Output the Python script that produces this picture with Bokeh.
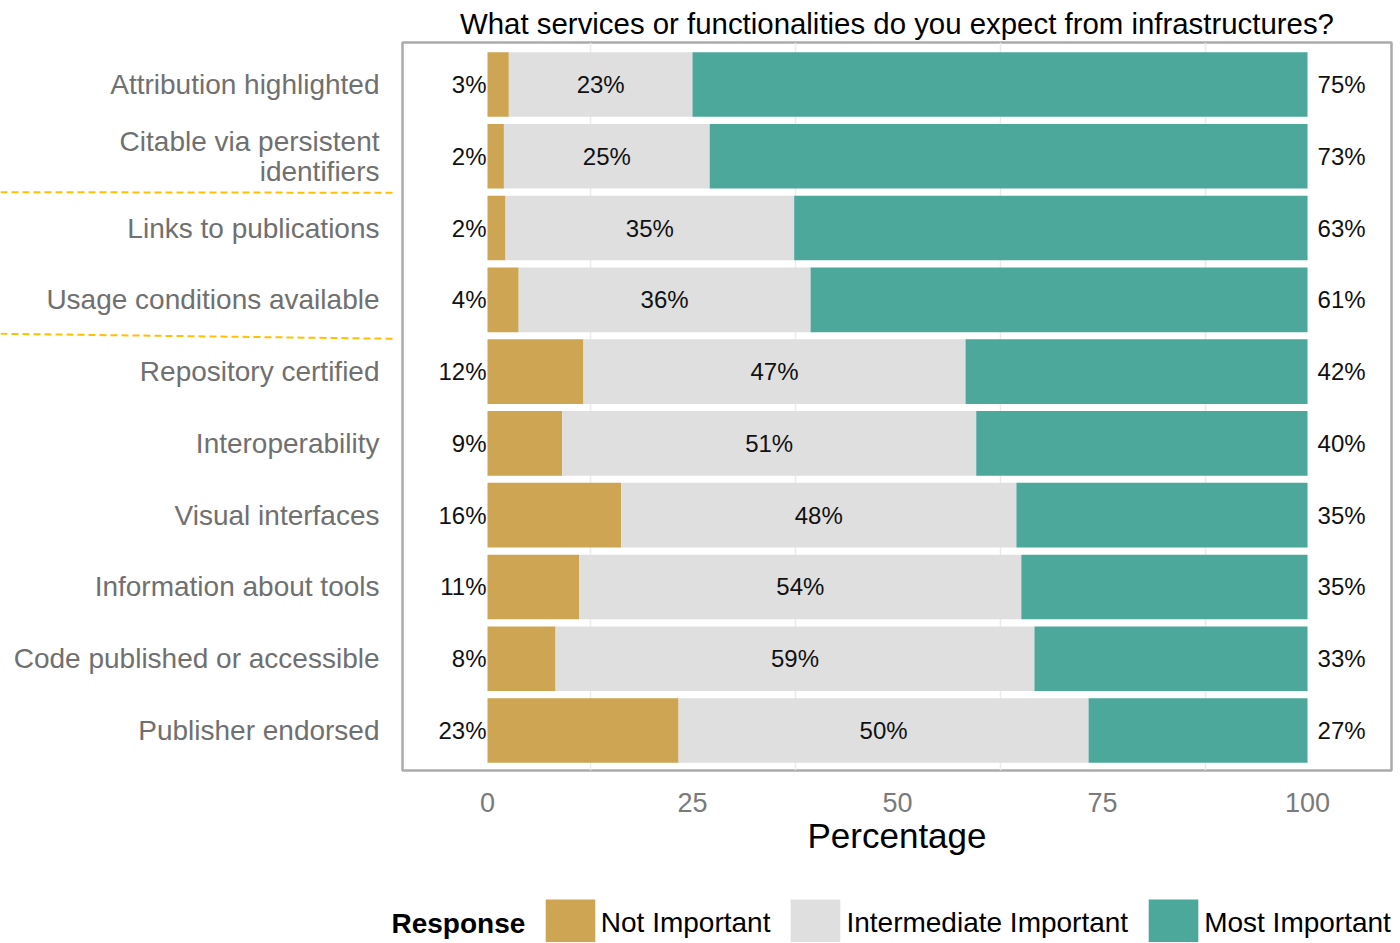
from bokeh.plotting import figure
from bokeh.models import Range1d, FixedTicker, Legend, LegendItem, ColumnDataSource
from bokeh.layouts import row, column
from bokeh.core.properties import value
from bokeh.embed import file_html
from bokeh.resources import INLINE

# ---------------- data ----------------
categories = [
    "Attribution highlighted",
    "Citable via persistent\nidentifiers",
    "Links to publications",
    "Usage conditions available",
    "Repository certified",
    "Interoperability",
    "Visual interfaces",
    "Information about tools",
    "Code published or accessible",
    "Publisher endorsed",
]
not_important = [2.6, 2.0, 2.2, 3.8, 11.7, 9.1, 16.3, 11.2, 8.3, 23.3]
intermediate = [22.4, 25.1, 35.2, 35.6, 46.6, 50.5, 48.2, 53.9, 58.4, 50.0]
most_important = [75.0, 72.9, 62.6, 60.6, 41.7, 40.4, 35.5, 34.9, 33.3, 26.7]

not_important_lbl = [3, 2, 2, 4, 12, 9, 16, 11, 8, 23]
intermediate_lbl = [23, 25, 35, 36, 47, 51, 48, 54, 59, 50]
most_important_lbl = [75, 73, 63, 61, 42, 40, 35, 35, 33, 27]

responses = ["Not Important", "Intermediate Important", "Most Important"]
colors = ["#CEA553", "#DFDFDF", "#4BA89B"]
x_ticks = [0, 25, 50, 75, 100]
x_minor = [12.5, 37.5, 62.5, 87.5]
title_text = "What services or functionalities do you expect from infrastructures?"
legend_title = "Response"
x_label = "Percentage"

n = len(categories)
pos = list(range(1, n + 1))

# ---------------- geometry ----------------
TOP = 42
BOTTOM = 110
ROW_H = TOP + 728 + BOTTOM       # 880
LEFT_W = 397
RIGHT_W = 1000
LEG_H = 62

FONT = "Liberation Sans"
y_range = Range1d(start=10.557, end=0.415)

# ---------------- left figure (category labels + separators) ----------------
pl = figure(width=LEFT_W, height=ROW_H, x_range=Range1d(0, LEFT_W), y_range=y_range,
            output_backend="svg", toolbar_location=None, title=None,
            x_axis_location=None, y_axis_location=None,
            min_border_left=0, min_border_right=0, min_border_top=TOP, min_border_bottom=BOTTOM)
pl.outline_line_color = None
pl.xgrid.visible = False
pl.ygrid.visible = False
pl.background_fill_color = "white"
pl.border_fill_color = "white"

pl.text(x=[379] * n, y=pos, text=categories, text_align="right", text_baseline="middle",
        text_font=value(FONT), text_font_size="28px", text_color="#707070",
        text_line_height=0.96)

pl.segment(x0=[0, 0], x1=[396, 396], y0=[2.500, 4.473], y1=[2.509, 4.543],
           line_color="#FFC000", line_width=2, line_dash="7 4")

# ---------------- right figure (bars) ----------------
p = figure(width=RIGHT_W, height=ROW_H, x_range=Range1d(-10.366, 110.24), y_range=y_range,
           output_backend="svg", toolbar_location=None, title=title_text,
           y_axis_location=None,
           min_border_left=5, min_border_right=6, min_border_top=TOP, min_border_bottom=BOTTOM)
p.background_fill_color = "white"
p.border_fill_color = "white"
p.outline_line_color = "#ABABAB"
p.outline_line_width = 2.5

p.title.align = "center"
p.title.text_font = FONT
p.title.text_font_size = "29.4px"
p.title.text_font_style = "normal"
p.title.text_color = "#000000"
p.title.standoff = 6

l0 = [0.0] * n
r0 = list(not_important)
r1 = [a + b for a, b in zip(not_important, intermediate)]
r2 = [a + b for a, b in zip(r1, most_important)]
src = ColumnDataSource(dict(y=pos, l0=l0, r0=r0, r1=r1, r2=r2))

p.hbar(y="y", left="l0", right="r0", height=0.9, source=src, fill_color=colors[0], line_color=None)
p.hbar(y="y", left="r0", right="r1", height=0.9, source=src, fill_color=colors[1], line_color=None)
p.hbar(y="y", left="r1", right="r2", height=0.9, source=src, fill_color=colors[2], line_color=None)

lab_font = value(FONT)
p.text(x=[0] * n, y=pos, text=[f"{v}%" for v in not_important_lbl], text_align="right",
       text_baseline="middle", x_offset=-1, text_font=lab_font, text_font_size="24px", text_color="#111111")
p.text(x=[a + b / 2 for a, b in zip(not_important, intermediate)], y=pos,
       text=[f"{v}%" for v in intermediate_lbl], text_align="center",
       text_baseline="middle", text_font=lab_font, text_font_size="24px", text_color="#111111")
p.text(x=[100] * n, y=pos, text=[f"{v}%" for v in most_important_lbl], text_align="left",
       text_baseline="middle", x_offset=10, text_font=lab_font, text_font_size="24px", text_color="#111111")

# grid
p.xgrid.ticker = FixedTicker(ticks=x_ticks, minor_ticks=x_minor)
p.xgrid.grid_line_color = None
p.xgrid.minor_grid_line_color = "#EBEBEB"
p.xgrid.minor_grid_line_width = 1.5
p.ygrid.grid_line_color = None

# x axis
ax = p.xaxis[0]
ax.ticker = FixedTicker(ticks=x_ticks, minor_ticks=[])
ax.axis_line_color = None
ax.major_tick_line_color = None
ax.minor_tick_line_color = None
ax.major_tick_out = 0
ax.major_tick_in = 0
ax.minor_tick_out = 0
ax.major_label_standoff = 22
ax.major_label_text_font = FONT
ax.major_label_text_font_size = "27px"
ax.major_label_text_color = "#7a7a7a"
ax.axis_label = x_label
ax.axis_label_text_font = FONT
ax.axis_label_text_font_size = "35px"
ax.axis_label_text_font_style = "normal"
ax.axis_label_text_color = "#000000"
ax.axis_label_standoff = 1

# ---------------- legend figure ----------------
pg = figure(width=LEFT_W + RIGHT_W, height=LEG_H, x_range=Range1d(0, LEFT_W + RIGHT_W),
            y_range=Range1d(0, LEG_H), output_backend="svg", toolbar_location=None, title=None,
            x_axis_location=None, y_axis_location=None,
            min_border_left=0, min_border_right=0, min_border_top=0, min_border_bottom=0)
pg.outline_line_color = None
pg.xgrid.visible = False
pg.ygrid.visible = False
pg.background_fill_color = "white"
pg.border_fill_color = "white"

dummy = ColumnDataSource(dict(y=[-100], l=[0], r=[0]))
g = [pg.hbar(y="y", left="l", right="r", height=1, source=dummy, fill_color=c, line_color=None)
     for c in colors]

legend = Legend(items=[LegendItem(label=lab, renderers=[rr]) for lab, rr in zip(responses, g)],
                orientation="horizontal", location=(538.8, -11),
                glyph_width=62, glyph_height=60, label_standoff=0, spacing=14,
                padding=0, margin=0, border_line_color=None, background_fill_alpha=0,
                label_text_font=FONT, label_text_font_size="28px",
                label_text_color="#000000")
pg.add_layout(legend, "center")

pg.text(x=[391], y=[19], text=[legend_title], text_align="left", text_baseline="middle",
        text_font=lab_font, text_font_size="28px", text_font_style="bold", text_color="#000000")

layout = column(row(pl, p), pg)
open("out.html", "w").write(file_html(layout, INLINE))
